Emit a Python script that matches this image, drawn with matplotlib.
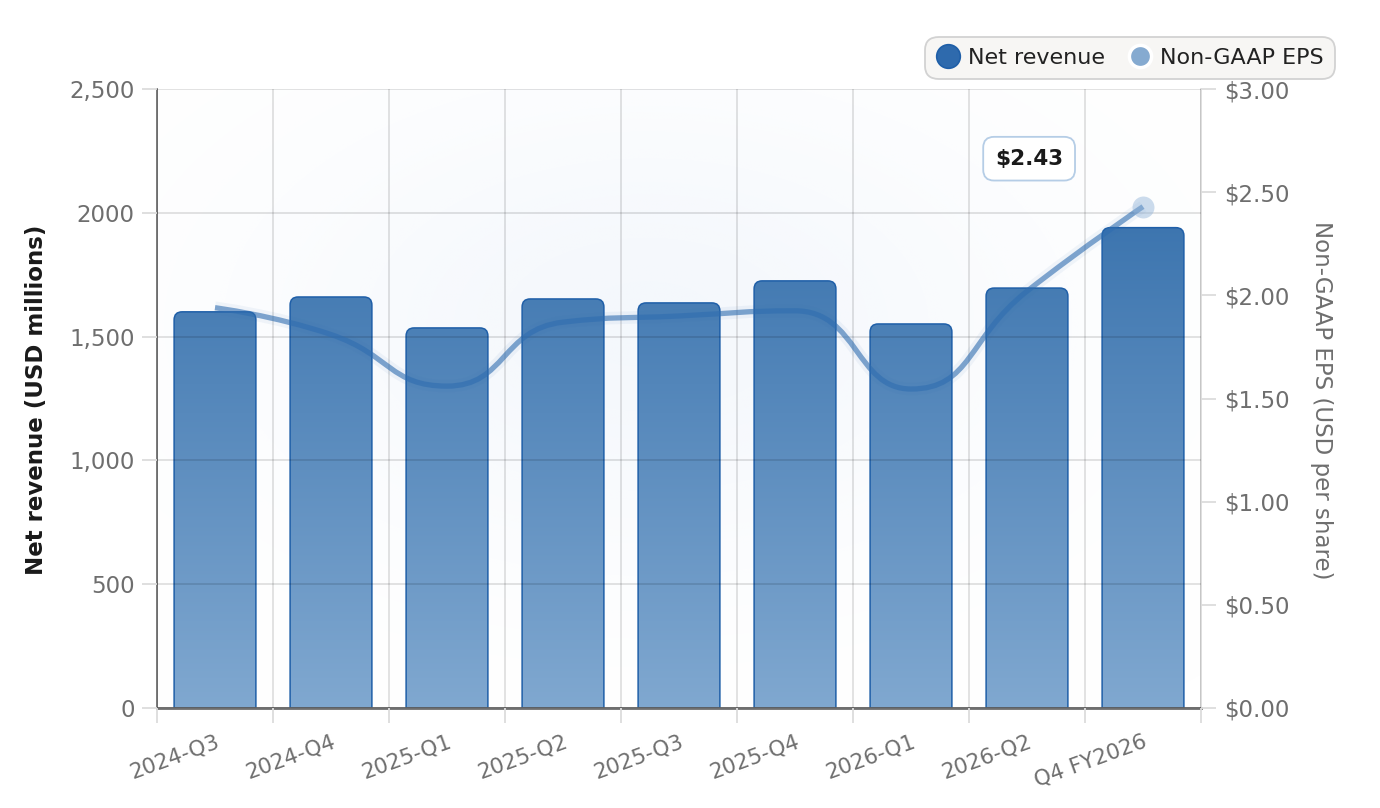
import numpy as np
import matplotlib
matplotlib.use("Agg")
import matplotlib.pyplot as plt
from matplotlib.path import Path
from matplotlib.patches import PathPatch
from matplotlib.lines import Line2D

# data
quarters = ['2024-Q3', '2024-Q4', '2025-Q1', '2025-Q2', '2025-Q3',
            '2025-Q4', '2026-Q1', '2026-Q2', 'Q4 FY2026']
revenue = [1600, 1660, 1535, 1652, 1636, 1725, 1551, 1696, 1940]
eps = [1.94, 1.81, 1.56, 1.87, 1.90, 1.925, 1.546, 2.02, 2.43]

rev_ticks = [0, 500, 1000, 1500, 2000, 2500]
rev_ticklabels = ['0', '500', '1,000', '1,500', '2000', '2,500']
eps_ticks = [0, 0.5, 1.0, 1.5, 2.0, 2.5, 3.0]

GRAY = '#6e6e6e'
GRID = '#dcdcdc'
BAR_TOP = np.array([42, 103, 166]) / 255
BAR_BOT = np.array([128, 168, 208]) / 255
LINE_C = '#2f6db0'

W, H = 1380, 808
fig = plt.figure(figsize=(W / 100, H / 100), dpi=100)
ax = fig.add_axes([157 / W, 1 - 708 / H, (1201 - 157) / W, (708 - 89) / H])
ax2 = ax.twinx()

n = len(quarters)
x = np.arange(n)
ax.set_xlim(-0.5, n - 0.5)
ax.set_ylim(0, 2500)
ax2.set_ylim(0, 3)

# faint radial glow in the plot background
gy, gx = np.mgrid[0:1:200j, 0:1:300j]
r2 = ((gx - 0.47) / 0.45) ** 2 + ((gy - 0.62) / 0.45) ** 2
glow = np.zeros((200, 300, 4))
glow[..., :3] = np.array([225, 235, 248]) / 255
glow[..., 3] = 0.35 * np.exp(-r2 * 1.5)
ax.imshow(glow, extent=(-0.5, n - 0.5, 0, 2500), origin='lower',
          aspect='auto', zorder=0, interpolation='bilinear')

# bars with rounded tops and a vertical gradient
px_x = (1201 - 157) / n          # pixels per category
px_y = (708 - 89) / 2500         # pixels per revenue unit
rad = 8
rx, ry = rad / px_x, rad / px_y
bw = 0.705
grad = np.linspace(0, 1, 256)[:, None, None]
grad_img = BAR_BOT + (BAR_TOP - BAR_BOT) * grad
for i, v in enumerate(revenue):
    x0, x1 = i - bw / 2, i + bw / 2
    verts = [(x0, 0), (x0, v - ry), (x0, v), (x0 + rx, v), (x1 - rx, v),
             (x1, v), (x1, v - ry), (x1, 0), (x0, 0)]
    codes = [Path.MOVETO, Path.LINETO, Path.CURVE3, Path.CURVE3, Path.LINETO,
             Path.CURVE3, Path.CURVE3, Path.LINETO, Path.CLOSEPOLY]
    patch = PathPatch(Path(verts, codes), facecolor='none', edgecolor='#1f5fa8',
                      lw=1.1, zorder=2)
    ax.add_patch(patch)
    im = ax.imshow(grad_img, extent=(x0, x1, 0, 2500), origin='lower',
                   aspect='auto', zorder=1.5, interpolation='bilinear')
    im.set_clip_path(patch)
ax.set_xlim(-0.5, n - 0.5)
ax.set_ylim(0, 2500)

# grid above bars
ax.set_axisbelow(False)
ax.set_xticks(np.arange(-0.5, n, 1.0))
ax.set_xticklabels([])
ax.set_xticks(x, minor=True)
ax.set_xticklabels(quarters, minor=True, rotation=20, ha='right',
                   rotation_mode='anchor', va='top')
ax.grid(True, which='major', color='black', alpha=0.12, lw=1.3)
ax.tick_params(axis='x', which='major', length=11, width=1.3, color=GRID)
ax.tick_params(axis='x', which='minor', length=0, pad=17, labelsize=15.5,
               labelcolor=GRAY)
ax.set_yticks(rev_ticks)
ax.set_yticklabels(rev_ticklabels)
ax.tick_params(axis='y', length=11, width=1.3, color=GRID, pad=5,
               labelsize=16.5, labelcolor=GRAY)
ax.yaxis.get_major_ticks()[0].tick1line.set_color(GRAY)

ax.spines['top'].set_visible(False)
ax.spines['left'].set_color(GRAY)
ax.spines['left'].set_linewidth(1.3)
ax.spines['bottom'].set_color(GRAY)
ax.spines['bottom'].set_linewidth(2.0)
ax.spines['right'].set_color(GRID)
ax.spines['right'].set_linewidth(1.3)
for s in ax2.spines.values():
    s.set_visible(False)

ax2.set_yticks(eps_ticks)
ax2.set_yticklabels(['$%.2f' % t for t in eps_ticks])
ax2.tick_params(axis='y', length=11, width=1.3, color=GRID, pad=6,
                labelsize=16.5, labelcolor=GRAY)

# smoothed EPS line: echarts-style control points with clamping, pixel space
pts = ax2.transData.transform(np.column_stack([x, eps]))
sm = 0.5
verts = [pts[0]]
codes = [Path.MOVETO]
cp0 = pts[0].copy()
for i in range(1, n):
    px, py = pts[i - 1]
    xx, yy = pts[i]
    if i == n - 1:
        cp1 = pts[i].copy()
        nxt_cp = None
    else:
        nx, ny = pts[i + 1]
        vx, vy = nx - px, ny - py
        lp = np.hypot(xx - px, yy - py)
        ln = np.hypot(nx - xx, ny - yy)
        r = ln / (ln + lp)
        ncx = xx + vx * sm * r
        ncy = yy + vy * sm * r
        ncx = max(min(ncx, max(nx, xx)), min(nx, xx))
        ncy = max(min(ncy, max(ny, yy)), min(ny, yy))
        vx, vy = ncx - xx, ncy - yy
        c1x = xx - vx * lp / ln
        c1y = yy - vy * lp / ln
        c1x = max(min(c1x, max(px, xx)), min(px, xx))
        c1y = max(min(c1y, max(py, yy)), min(py, yy))
        vx, vy = xx - c1x, yy - c1y
        ncx = xx + vx * ln / lp
        ncy = yy + vy * ln / lp
        cp1 = np.array([c1x, c1y])
        nxt_cp = np.array([ncx, ncy])
    verts += [cp0, cp1, pts[i]]
    codes += [Path.CURVE4] * 3
    cp0 = nxt_cp
verts = ax2.transData.inverted().transform(np.array(verts))
line_path = Path(verts, codes)
ax2.add_patch(PathPatch(line_path, facecolor='none', edgecolor=LINE_C,
                        lw=9, alpha=0.06, zorder=3))
ax2.add_patch(PathPatch(line_path, facecolor='none', edgecolor=LINE_C,
                        lw=3.8, alpha=0.6, zorder=4, capstyle='butt'))

# highlighted last point and its label
ax2.scatter([x[-1]], [eps[-1]], s=250, color='#8fb2d8', alpha=0.45,
            zorder=5, lw=0)
ax2.annotate('$%.2f' % eps[-1], xy=(x[-1], eps[-1]), xytext=(-82, 34.5),
             textcoords='offset points', ha='center', va='center',
             fontsize=15.5, fontweight='bold', color='#1a1a1a', zorder=6,
             bbox=dict(boxstyle='round,pad=0.55,rounding_size=0.5',
                       fc='white', ec='#b5cde6', lw=1.3))

# axis titles
fig.text(37 / W, 1 - 400 / H, 'Net revenue (USD millions)', rotation=90,
         ha='center', va='center', fontsize=16.5, fontweight='bold',
         color='#1a1a1a')
fig.text(1322 / W, 1 - 400 / H, 'Non-GAAP EPS (USD per share)', rotation=270,
         ha='center', va='center', fontsize=16.5, color=GRAY)

# legend
handles = [
    Line2D([], [], ls='', marker='o', ms=17, mfc='#2e6aad', mec='#1f5fa8',
           mew=1.2),
    Line2D([], [], ls='', marker='o', ms=16, mfc='#85aad0', mec='white',
           mew=2.5),
]
leg = fig.legend(handles, ['Net revenue', 'Non-GAAP EPS'], ncol=2,
                 loc='upper right', bbox_to_anchor=(1335 / W, 1 - 37 / H),
                 frameon=True, fontsize=16, handlelength=1.0,
                 handletextpad=0.4, columnspacing=1.1, borderpad=0.5,
                 borderaxespad=0)
leg.get_frame().set_facecolor('#f7f6f4')
leg.get_frame().set_edgecolor('#d2d2d2')
leg.get_frame().set_linewidth(1.3)
leg.get_frame().set_alpha(1)
leg.get_frame().set_boxstyle('round,pad=0,rounding_size=0.6')
for t in leg.get_texts():
    t.set_color('#222222')

fig.savefig('out.png', dpi=100)
